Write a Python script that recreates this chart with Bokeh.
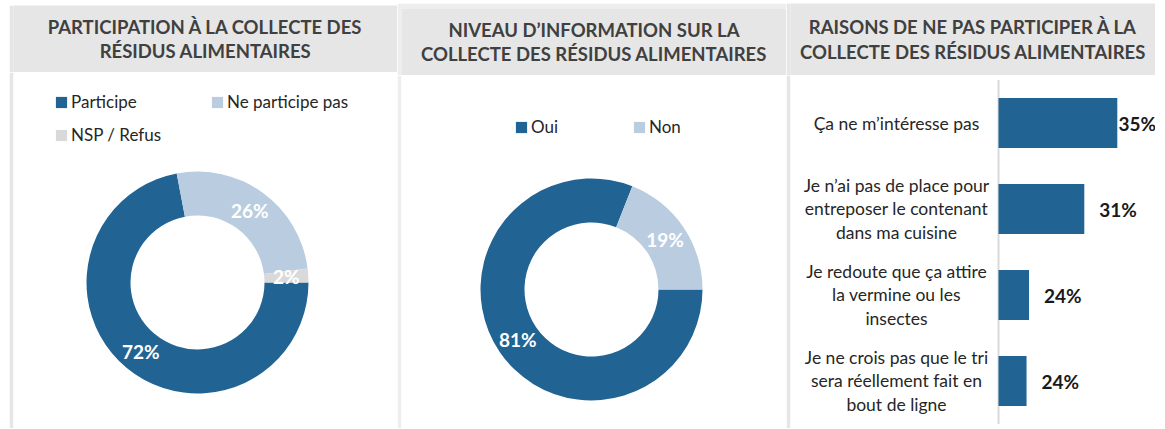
import numpy as np
from bokeh.plotting import figure
from bokeh.models import ColumnDataSource, Range1d, Legend, LegendItem
from bokeh.layouts import row, column
from bokeh.embed import file_html
from bokeh.resources import INLINE
from bokeh.core.properties import value

# ---------------- data ----------------
title1 = "PARTICIPATION À LA COLLECTE DES\nRÉSIDUS ALIMENTAIRES"
title2 = "NIVEAU D’INFORMATION SUR LA\nCOLLECTE DES RÉSIDUS ALIMENTAIRES"
title3 = "RAISONS DE NE PAS PARTICIPER À LA\nCOLLECTE DES RÉSIDUS ALIMENTAIRES"

part_labels = ["Participe", "Ne participe pas", "NSP / Refus"]
part_values = [72, 26, 2]

info_labels = ["Oui", "Non"]
info_values = [81, 19]

reasons = [
    "Ça ne m’intéresse pas",
    "Je n’ai pas de place pour\nentreposer le contenant\ndans ma cuisine",
    "Je redoute que ça attire\nla vermine ou les\ninsectes",
    "Je ne crois pas que le tri\nsera réellement fait en\nbout de ligne",
]
reason_values = [35, 31, 24.3, 24.0]
reason_texts = ["35%", "31%", "24%", "24%"]

# ---------------- style ----------------
DARK = "#216494"
LIGHT = "#BACDE0"
NSP = "#D9D9D9"
PANEL = "#E6E6E6"
STRIPE = "#EEEEEE"
FONT_NAME = "Lato"
FONT = value(FONT_NAME)
BOTTOM = 428


def base_fig(w, h, xr, yr, **kw):
    kw.setdefault("min_border", 0)
    p = figure(width=w, height=h, x_range=xr, y_range=yr,
               x_axis_type=None, y_axis_type=None,
               toolbar_location=None, output_backend="svg", **kw)
    p.grid.visible = False
    p.outline_line_color = None
    return p


def header(text, w, h, border_color=PANEL, **kw):
    p = base_fig(w, h, Range1d(0, 1), Range1d(0, 1), **kw)
    p.background_fill_color = PANEL
    p.border_fill_color = border_color
    p.text(x=[0.5], y=[0.5], text=[text], text_align="center",
           text_baseline="middle", text_font=FONT, text_font_style="bold",
           text_font_size="18.5px", text_color="#404040", text_line_height=1.1)
    return p


def donut(labels, values, colors, w, h, strip, strip_color, cx, cy, legend_locs):
    fw = w - strip
    p = base_fig(w, h, Range1d(-cx, fw - cx), Range1d(-(h - cy), cy),
                 min_border_left=strip)
    p.background_fill_color = "white"
    p.border_fill_color = strip_color
    v = np.array(values, dtype=float)
    frac = v / v.sum()
    cum = np.concatenate([[0.0], np.cumsum(frac)])
    start = -cum[1:] * 2 * np.pi
    end = -cum[:-1] * 2 * np.pi
    mid = -(cum[:-1] + cum[1:]) / 2 * 2 * np.pi
    r_in, r_out = 67, 111
    r_mid = (r_in + r_out) / 2
    src = ColumnDataSource(dict(label=labels, start=start, end=end, color=colors,
                                lx=r_mid * np.cos(mid), ly=r_mid * np.sin(mid),
                                txt=[f"{int(round(x))}%" for x in values]))
    r = p.annular_wedge(x=0, y=0, inner_radius=r_in, outer_radius=r_out,
                        start_angle="start", end_angle="end", direction="anticlock",
                        fill_color="color", line_color=None, source=src)
    p.text(x="lx", y="ly", text="txt", source=src, text_align="center",
           text_baseline="middle", text_font=FONT, text_font_style="bold",
           text_font_size="19px", text_color="white")
    for i, loc in enumerate(legend_locs):
        lg = Legend(items=[LegendItem(label=labels[i], renderers=[r], index=i)],
                    location=loc, orientation="horizontal",
                    glyph_width=14, glyph_height=14, label_standoff=3,
                    label_text_font=FONT_NAME, label_text_font_size="17px",
                    label_text_color="#262626", padding=0, margin=0, spacing=0,
                    border_line_color=None, background_fill_alpha=0)
        p.add_layout(lg)
    return p


# ---------- panel 1 : x 9..397, header y 5..72 ----------
W1 = 388
h1 = header(title1, W1, 67)
b1 = donut(part_labels, part_values, [DARK, LIGHT, NSP], W1, BOTTOM - 72, 4, PANEL,
           184, 210, [(41, 316), (197, 316), (41, 283)])
col1 = column(h1, b1, margin=(5, 0, 0, 9))

# ---------- panel 2 : x 397..786, header y 8..75 ----------
W2 = 389
h2 = header(title2, W2, 72, border_color=STRIPE, min_border_top=5, min_border_left=4)
b2 = donut(info_labels, info_values, [DARK, LIGHT], W2, BOTTOM - 75, 4, STRIPE,
           190, 214, [(113, 291), (231, 291)])
col2 = column(h2, b2, margin=(3, 0, 0, 0))

# ---------- panel 3 : x 786..1155, header y 3..75 ----------
W3, HH3 = 369, 72
H3 = BOTTOM - 3 - HH3
h3 = header(title3, W3, HH3)
strip3 = 4
fw3 = W3 - strip3
PX = 8.25          # pixels per percentage point
BASE = 20.6        # axis minimum
axis_px = 208      # axis position from frame left
band = 86          # pixels per category
first_c = 47.5     # first category centre from frame top
xr = Range1d(BASE - axis_px / PX, BASE + (fw3 - axis_px) / PX)
yr = Range1d((H3 - first_c) / band, -first_c / band)
b3 = base_fig(W3, H3, xr, yr, min_border_left=strip3)
b3.background_fill_color = "white"
b3.border_fill_color = PANEL

n = len(reasons)
ypos = np.arange(n)
vals = np.array(reason_values, dtype=float)
bar_end_px = axis_px + (vals - BASE) * PX
lab_off = np.minimum(15, fw3 - bar_end_px - 37)
src3 = ColumnDataSource(dict(y=ypos, v=vals, cat=reasons, txt=reason_texts, off=lab_off))

b3.segment(x0=BASE, y0=-0.5, x1=BASE, y1=n - 0.5, line_color="#D9D9D9", line_width=2)
b3.hbar(y="y", left=BASE, right="v", height=0.58, fill_color=DARK, line_color=None, source=src3)
b3.text(x=BASE, y="y", text="cat", source=src3, x_offset=-102, text_align="center",
        text_baseline="middle", text_font=FONT, text_font_size="17.5px",
        text_color="#262626", text_line_height=1.11)
b3.text(x="v", y="y", text="txt", source=src3, x_offset="off", text_align="left",
        text_baseline="middle", text_font=FONT, text_font_style="bold",
        text_font_size="19px", text_color="#1a1a1a")
col3 = column(h3, b3, margin=(3, 0, 0, 0))

layout = row(col1, col2, col3)
open("out.html", "w").write(file_html(layout, INLINE, "Collecte des résidus alimentaires"))
